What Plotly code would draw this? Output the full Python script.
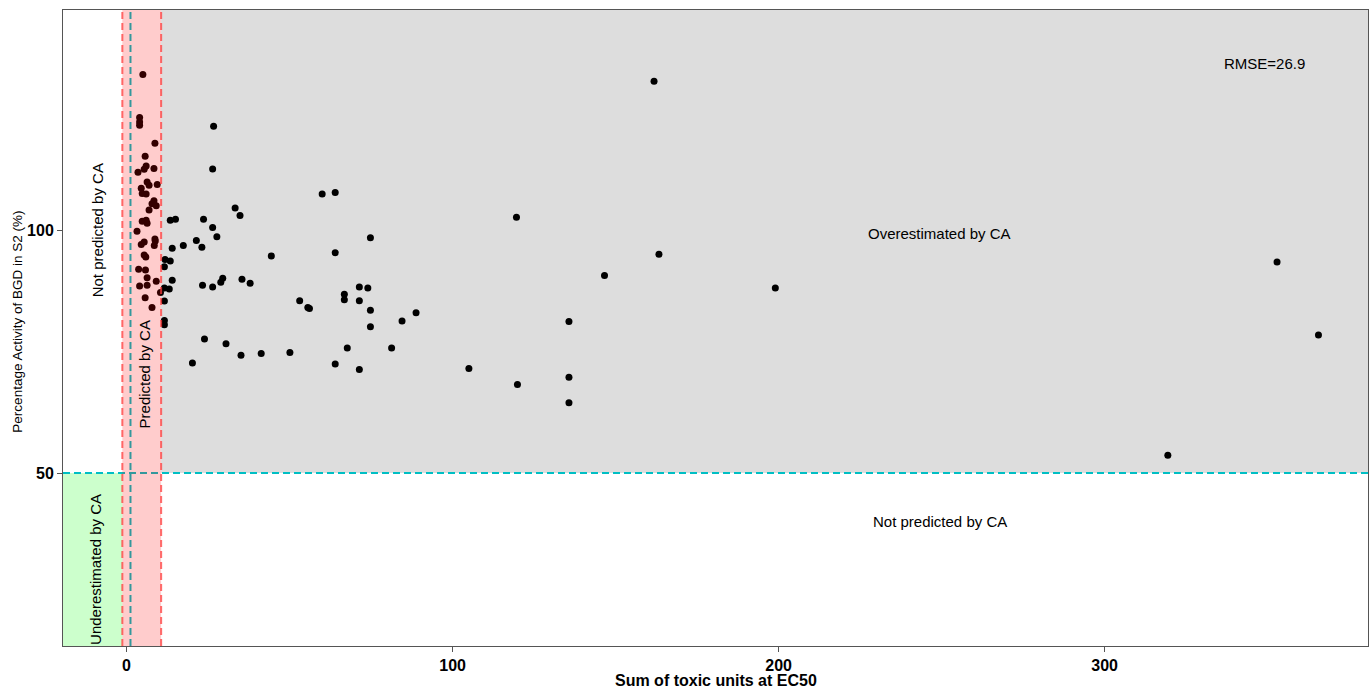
import plotly.graph_objects as go

# ---- data ----
tu_band = [5.0, 4.0, 4.0, 4.0, 8.7, 5.7, 6.0, 5.4, 3.5, 8.4, 6.3, 6.9, 9.4, 4.5, 4.8, 6.0,
           8.4, 7.8, 9.1, 6.9, 4.8, 6.0, 6.3, 3.2, 5.4, 4.5, 8.7, 8.8, 8.5, 5.4, 5.9, 3.7,
           5.8, 6.3, 9.1, 4.0, 6.3, 10.4, 5.7, 7.8]
act_band = [132.3, 123.4, 122.5, 121.8, 118.1, 115.4, 113.4, 112.7, 112.1, 112.9, 110.1, 109.4,
            109.6, 108.8, 107.7, 107.6, 106.2, 105.6, 105.2, 104.3, 102.0, 102.2, 101.6, 99.9,
            97.7, 97.2, 98.3, 97.9, 97.0, 95.0, 94.6, 92.1, 91.9, 90.3, 89.6, 88.6, 88.8, 87.3,
            86.2, 84.2]

tu_rest = [26.7, 26.4, 60.0, 64.0, 33.3, 34.8, 23.6, 26.4, 27.7, 17.4, 21.4, 23.1, 44.4, 64.0,
           74.8, 23.3, 26.4, 28.9, 29.5, 35.4, 37.9, 53.1, 55.6, 56.1, 66.8, 66.8, 71.4, 74.0,
           71.4, 74.8, 74.8, 84.5, 88.8, 23.9, 30.5, 35.1, 41.3, 50.1, 67.7, 81.3, 20.2, 64.0,
           71.4, 13.4, 15.0, 14.0, 11.8, 13.4, 11.6, 14.0, 11.6, 13.1, 11.6, 11.6, 11.6,
           161.8, 119.6, 163.3, 146.6, 199.0, 135.7, 105.0, 119.9, 135.7, 135.7, 352.9, 365.6,
           319.4]
act_rest = [121.6, 112.8, 107.6, 107.9, 104.7, 103.2, 102.4, 100.7, 98.8, 97.0, 98.0, 96.6,
            94.8, 95.5, 98.6, 88.8, 88.4, 89.4, 90.2, 90.0, 89.2, 85.6, 84.2, 84.0, 86.9, 85.8,
            88.4, 88.2, 85.6, 83.6, 80.2, 81.4, 83.1, 77.7, 76.7, 74.3, 74.7, 74.9, 75.8, 75.8,
            72.7, 72.5, 71.4, 102.2, 102.4, 96.4, 94.1, 93.8, 92.6, 89.8, 88.2, 88.0, 85.5,
            81.5, 80.6, 130.9, 102.8, 95.2, 90.8, 88.2, 81.3, 71.6, 68.3, 69.8, 64.5, 93.6,
            78.5, 53.7]

x_ticks = [0, 100, 200, 300]
y_ticks = [50, 100]
x_range = [-19.5, 380.8]
y_range = [14.3, 145.6]
band_lo, band_hi = -1.3, 10.6
tu_ref = 1.2
act_threshold = 50
rmse_label = "RMSE=26.9"

FONT = "Liberation Sans, Arial, sans-serif"

fig = go.Figure()
fig.add_trace(go.Scatter(
    x=tu_band + tu_rest, y=act_band + act_rest, mode="markers",
    marker=dict(color="black", size=7, line=dict(width=0)),
    showlegend=False, hoverinfo="x+y"))

shapes = []
# grey overestimated region
shapes.append(dict(type="rect", xref="x", yref="y", x0=band_hi, x1=x_range[1],
                   y0=act_threshold, y1=y_range[1], fillcolor="rgba(0,0,0,0.133)",
                   line=dict(width=0), layer="above"))
# green underestimated region
shapes.append(dict(type="rect", xref="x", yref="y", x0=x_range[0], x1=band_lo,
                   y0=y_range[0], y1=act_threshold, fillcolor="rgba(0,255,0,0.2)",
                   line=dict(width=0), layer="above"))
# teal reference lines
shapes.append(dict(type="line", xref="x", yref="y", x0=x_range[0], x1=x_range[1],
                   y0=act_threshold, y1=act_threshold,
                   line=dict(color="#00BFC4", width=2, dash="7px,4px"), layer="above"))
shapes.append(dict(type="line", xref="x", yref="y", x0=tu_ref, x1=tu_ref,
                   y0=y_range[0], y1=y_range[1],
                   line=dict(color="#00BFC4", width=2, dash="7px,4px"), layer="above"))
# pink predicted band
shapes.append(dict(type="rect", xref="x", yref="y", x0=band_lo, x1=band_hi,
                   y0=y_range[0], y1=y_range[1], fillcolor="rgba(255,0,0,0.2)",
                   line=dict(width=0), layer="above"))
for xv in (band_lo, band_hi):
    shapes.append(dict(type="line", xref="x", yref="y", x0=xv, x1=xv,
                       y0=y_range[0], y1=y_range[1],
                       line=dict(color="rgba(255,60,60,0.75)", width=2, dash="7px,4px"),
                       layer="above"))

fig.update_layout(shapes=shapes)

ann_font = dict(family=FONT, size=15, color="black")
annotations = [
    dict(x=349.0, y=134.6, text=rmse_label),
    dict(x=249.5, y=99.5, text="Overestimated by CA"),
    dict(x=249.5, y=40.0, text="Not predicted by CA"),
    dict(x=-9.1, y=100.1, text="Not predicted by CA", textangle=-90),
    dict(x=5.4, y=70.4, text="Predicted by CA", textangle=-90),
    dict(x=-9.4, y=30.2, text="Underestimated by CA", textangle=-90),
]
for a in annotations:
    a.update(xref="x", yref="y", showarrow=False, font=ann_font,
             xanchor="center", yanchor="middle")
# axis titles
annotations.append(dict(xref="paper", yref="paper", x=0.5, y=-34/636,
                        text="<b>Sum of toxic units at EC50</b>", showarrow=False,
                        xanchor="center", yanchor="middle",
                        font=dict(family=FONT, size=16, color="black")))
annotations.append(dict(xref="paper", yref="paper", x=-45/1305, y=0.51,
                        text="Percentage Activity of BGD in S2 (%)", showarrow=False,
                        textangle=-90, xanchor="center", yanchor="middle",
                        font=dict(family=FONT, size=13.5, color="black")))
fig.update_layout(annotations=annotations)

axis_common = dict(showgrid=False, zeroline=False, showline=True, mirror=True,
                   linecolor="#555555", linewidth=1, ticks="outside", ticklen=5,
                   tickcolor="#555555", tickwidth=1,
                   tickfont=dict(family=FONT, size=16, color="black", weight="bold"))
fig.update_xaxes(range=x_range, tickvals=x_ticks, **axis_common)
fig.update_yaxes(range=y_range, tickvals=y_ticks, **axis_common)

fig.update_layout(width=1369, height=688, margin=dict(l=63, r=1, t=10, b=42),
                  plot_bgcolor="white", paper_bgcolor="white",
                  font=dict(family=FONT), showlegend=False)

fig.write_html("out.html")
